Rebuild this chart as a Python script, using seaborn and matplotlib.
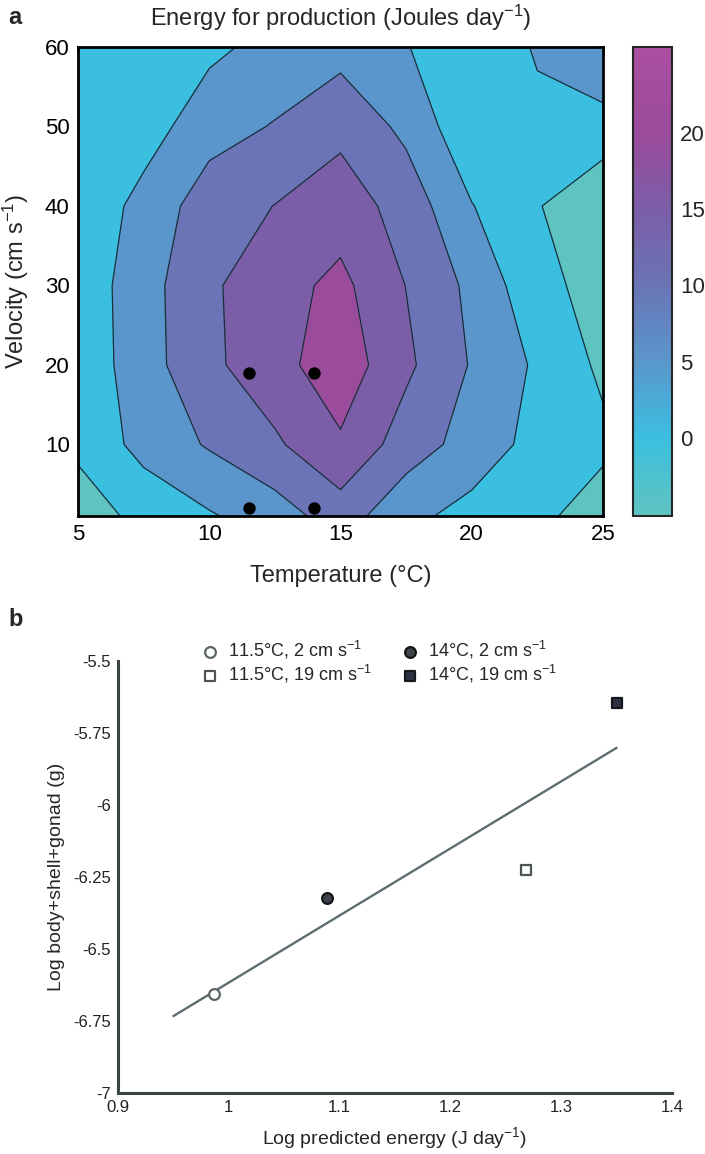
import numpy as np
import pandas as pd
import matplotlib
matplotlib.use("Agg")
import matplotlib.pyplot as plt
import seaborn as sns
from matplotlib.colors import LinearSegmentedColormap, Normalize
from matplotlib.cm import ScalarMappable

# ---- panel a: energy for production (J day-1) over temperature x velocity
temperature = [5, 7.5, 10, 12.5, 15, 17.5, 20, 22.5, 25]
velocity = [1, 10, 20, 30, 40, 50, 60]
energy = [
    [-2.5, 1.4, 4.5, 7.6, 12.5, 6.3, 3.3, 1.2, -2.5],     # 1 cm s-1
    [1.0, 6.7, 10.5, 14.2, 19.3, 12.6, 8.0, 3.3, 1.1],    # 10
    [1.5, 7.9, 13.9, 18.2, 23.0, 16.0, 9.6, 4.2, -1.0],   # 20
    [1.75, 8.0, 14.2, 18.05, 21.3, 14.9, 8.8, 1.5, -1.9], # 30
    [0.8, 6.8, 12.5, 15.1, 17.6, 13.0, 5.2, 0.4, -5.1],   # 40
    [0.8, 2.6, 8.1, 10.3, 13.7, 8.8, 1.1, 3.5, 3.6],      # 50
    [1.0, 2.5, 3.85, 6.7, 8.2, 5.3, 0.3, 5.64, 8.3],      # 60
]
energy_range = [-5.1, 25.6]
contour_levels = [0, 5, 10, 15, 20]

# experimental conditions (black dots)
exp_temperature = [11.5, 14, 11.5, 14]
exp_velocity = [19, 19, 2, 2]

# ---- panel b
log_energy = [0.987, 1.089, 1.268, 1.350]
log_mass = [-6.657, -6.322, -6.225, -5.646]
conditions = ['11.5°C, 2 cm s$^{-1}$', '14°C, 2 cm s$^{-1}$',
              '11.5°C, 19 cm s$^{-1}$', '14°C, 19 cm s$^{-1}$']
fit_range = [0.95, 1.35]

sns.set_style('white')
plt.rcParams['font.family'] = ['Liberation Sans', 'DejaVu Sans']
plt.rcParams['mathtext.default'] = 'regular'

W, H = 705, 1154
fig = plt.figure(figsize=(W / 100, H / 100), dpi=100)


def box(l, t, r, b):
    return [l / W, 1 - b / H, (r - l) / W, (b - t) / H]


# colour map sampled from the colour bar
stops = [(-5.1, '#5fc3c0'), (0, '#3bbfe0'), (5, '#5a96cc'), (10, '#6a74b6'),
         (15, '#7c5ea8'), (20, '#9b4b9c'), (25.6, '#ab4fa1')]
lo, hi = energy_range
cmap = LinearSegmentedColormap.from_list('energy', [((v - lo) / (hi - lo), c) for v, c in stops])
norm = Normalize(lo, hi)

ax = fig.add_axes(box(78, 47, 603, 516))
T, V = np.meshgrid(temperature, velocity)
Z = np.array(energy)
fill_levels = [Z.min() - 1] + contour_levels + [Z.max() + 1]
fill_colors = [cmap(norm(lo))] + [cmap(norm(l)) for l in contour_levels]
ax.contourf(T, V, Z, levels=fill_levels, colors=fill_colors)
ax.contour(T, V, Z, levels=contour_levels, colors='#17303a', linewidths=0.9)

dots = pd.DataFrame({'temperature': exp_temperature, 'velocity': exp_velocity})
sns.scatterplot(data=dots, x='temperature', y='velocity', ax=ax, color='black',
                s=80, edgecolor='black', linewidth=0, zorder=5, clip_on=False)

ax.set_xlim(5, 25)
ax.set_ylim(1, 60)
ax.set_xticks([5, 10, 15, 20, 25])
ax.set_yticks([10, 20, 30, 40, 50, 60])
ax.tick_params(direction='in', length=4, width=1, top=True, right=True,
               labelsize=16, colors='black', pad=6)
for s in ax.spines.values():
    s.set_linewidth(2)
    s.set_color('black')
ax.set_xlabel('Temperature (°C)', fontsize=17)
ax.set_ylabel('Velocity (cm s$^{-1}$)', fontsize=17)
ax.xaxis.set_label_coords(0.5, -0.105)
ax.yaxis.set_label_coords(-0.09, 0.5)

cax = fig.add_axes(box(633, 47, 672, 516))
cb = fig.colorbar(ScalarMappable(norm=norm, cmap=cmap), cax=cax, ticks=contour_levels)
cb.outline.set_linewidth(1.5)
cax.tick_params(direction='in', length=3, width=1, left=True, right=True,
                labelsize=16, pad=6)

fig.text(341 / W, 1 - 18 / H, 'Energy for production (Joules day$^{-1}$)',
         ha='center', va='center', fontsize=17)
fig.text(8 / W, 1 - 18 / H, 'a', ha='left', va='center', fontsize=17, fontweight='bold')

# ---- panel b
bx = fig.add_axes(box(118, 661, 672, 1093))
points = pd.DataFrame({'log_energy': log_energy, 'log_mass': log_mass, 'condition': conditions})

slope, intercept = np.polyfit(log_energy, log_mass, 1)
fit_x = np.array(fit_range)
sns.lineplot(x=fit_x, y=slope * fit_x + intercept, ax=bx, color='#5e6e70', linewidth=1.7)

styles = {
    conditions[0]: dict(marker='o', color='white', edgecolor='#5b6466'),
    conditions[1]: dict(marker='o', color='#3e434b', edgecolor='#141414'),
    conditions[2]: dict(marker='s', color='white', edgecolor='#4d5456'),
    conditions[3]: dict(marker='s', color='#2c3140', edgecolor='#16181e'),
}
order = [conditions[0], conditions[2], conditions[1], conditions[3]]
for cond in order:
    sns.scatterplot(data=points[points['condition'] == cond], x='log_energy', y='log_mass',
                    ax=bx, s=60, linewidth=1.6, label=cond, zorder=5, **styles[cond])

bx.set_xlim(0.9, 1.4)
bx.set_ylim(-7, -5.5)
bx.set_xticks([0.9, 1, 1.1, 1.2, 1.3, 1.4])
bx.set_xticklabels(['0.9', '1', '1.1', '1.2', '1.3', '1.4'])
bx.set_yticks([-7, -6.75, -6.5, -6.25, -6, -5.75, -5.5])
bx.set_yticklabels(['-7', '-6.75', '-6.5', '-6.25', '-6', '-5.75', '-5.5'])
sns.despine(ax=bx)
for side in ['left', 'bottom']:
    bx.spines[side].set_linewidth(2.2)
    bx.spines[side].set_color('#3c4346')
bx.tick_params(direction='in', length=3, width=1.2, colors='#3c4346',
               labelcolor='#222222', labelsize=12, pad=5)
bx.set_xlabel('Log predicted energy (J day$^{-1}$)', fontsize=14)
bx.set_ylabel('Log body+shell+gonad (g)', fontsize=14)
bx.xaxis.set_label_coords(0.5, -0.075)
bx.yaxis.set_label_coords(-0.096, 0.5)

bx.legend(ncol=2, loc='upper left', bbox_to_anchor=(201 / W, 1 - 639 / H),
          bbox_transform=fig.transFigure, frameon=False, fontsize=13,
          handlelength=1.0, handletextpad=0.5, columnspacing=1.6,
          labelspacing=0.1, borderpad=0, borderaxespad=0)

fig.text(8 / W, 1 - 620 / H, 'b', ha='left', va='center', fontsize=17, fontweight='bold')

fig.savefig('out.png', dpi=100)
